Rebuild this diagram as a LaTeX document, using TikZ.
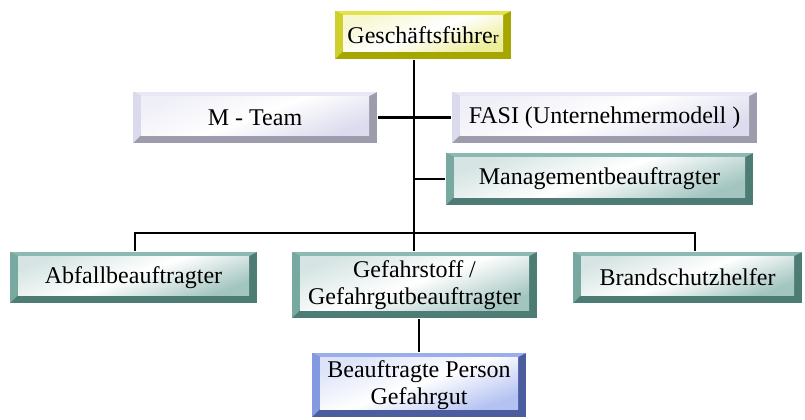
\documentclass[tikz,border=0pt]{standalone}
\usepackage{fontspec}
\setmainfont{Liberation Serif}
\usetikzlibrary{calc,positioning}

\definecolor{gfTop}{HTML}{E2E24A}
\definecolor{gfSide}{HTML}{CFCF2E}
\definecolor{gfDark}{HTML}{A6A600}
\definecolor{gfFace}{HTML}{EDED9A}
\definecolor{lvTop}{HTML}{E8E8F4}
\definecolor{lvSide}{HTML}{DADAEC}
\definecolor{lvDark}{HTML}{9C9CAC}
\definecolor{lvFace}{HTML}{DCDCEE}
\definecolor{tlTop}{HTML}{8CBAB3}
\definecolor{tlSide}{HTML}{78A9A1}
\definecolor{tlDark}{HTML}{4D7C75}
\definecolor{tlFace}{HTML}{A3C5C0}
\definecolor{blTop}{HTML}{9AAEEC}
\definecolor{blSide}{HTML}{8399E0}
\definecolor{blDark}{HTML}{4B5D9E}
\definecolor{blFace}{HTML}{B4C2F2}

\tikzset{
	bevel/.style n args={4}{rectangle,inner sep=0pt,align=center,
		font=\fontsize{18}{20.5}\selectfont,
		path picture={
			\fill[#3] (path picture bounding box.south west) rectangle (path picture bounding box.north east);
			\fill[#1] (path picture bounding box.north west) -- (path picture bounding box.north east)
				-- ([shift={(-6pt,-3pt)}]path picture bounding box.north east)
				-- ([shift={(6pt,-3pt)}]path picture bounding box.north west) -- cycle;
			\fill[#2] (path picture bounding box.north west) -- ([shift={(6pt,-3pt)}]path picture bounding box.north west)
				-- ([shift={(6pt,6pt)}]path picture bounding box.south west)
				-- (path picture bounding box.south west) -- cycle;
			\shade[top color=#4!45,bottom color=#4,middle color=white,shading angle=20]
				([shift={(6pt,-3pt)}]path picture bounding box.north west)
				rectangle ([shift={(-6pt,6pt)}]path picture bounding box.south east);
		}},
	chief/.style={bevel={gfTop}{gfSide}{gfDark}{gfFace}},
	staff/.style={bevel={lvTop}{lvSide}{lvDark}{lvFace}},
	officer/.style={bevel={tlTop}{tlSide}{tlDark}{tlFace}},
	person/.style={bevel={blTop}{blSide}{blDark}{blFace}},
}

\begin{document}
\begin{tikzpicture}[x=0.75pt,y=-0.75pt,line width=1.6pt]
\useasboundingbox (0,0) rectangle (805,419);

\node[chief,minimum width=132pt,minimum height=36pt] (gf) at (423,35)
	{Geschäftsführe{\fontsize{13}{15}\selectfont r}};
\node[staff,minimum width=183pt,minimum height=38.25pt] (mt) at (255,117.5) {M - Team};
\node[staff,minimum width=228.75pt,minimum height=38.25pt] (fasi) at (604.5,117.5) {FASI (Unternehmermodell )};
\node[officer,minimum width=230.25pt,minimum height=39pt] (mgmt) at (599.5,179) {Managementbeauftragter};

\node[officer,minimum width=185.25pt,minimum height=38.25pt] (abf) at (133.5,277.5) {Abfallbeauftragter};
\node[officer,minimum width=183.75pt,minimum height=49.5pt] (gef) at (414.5,285) {Gefahrstoff /\\Gefahrgutbeauftragter};
\node[officer,minimum width=171.75pt,minimum height=38.25pt] (brand) at (687.5,277.5) {Brandschutzhelfer};
\node[person,minimum width=160.5pt,minimum height=48pt] (bp) at (419,385) {Beauftragte Person\\Gefahrgut};

% connectors
\coordinate (trunk) at (414,233);
\coordinate (busL) at (135,233);
\coordinate (busR) at (695,233);
\draw (gf.south -| trunk) -- (trunk);
\draw (mt.east) -- (fasi.west);
\draw (mgmt.west -| trunk) -- (mgmt.west);
\draw (busL |- abf.north) -- (busL) -- (busR) -- (busR |- brand.north);
\draw (trunk) -- (trunk |- gef.north);
\draw (bp.north |- gef.south) -- (bp.north);
\end{tikzpicture}
\end{document}
